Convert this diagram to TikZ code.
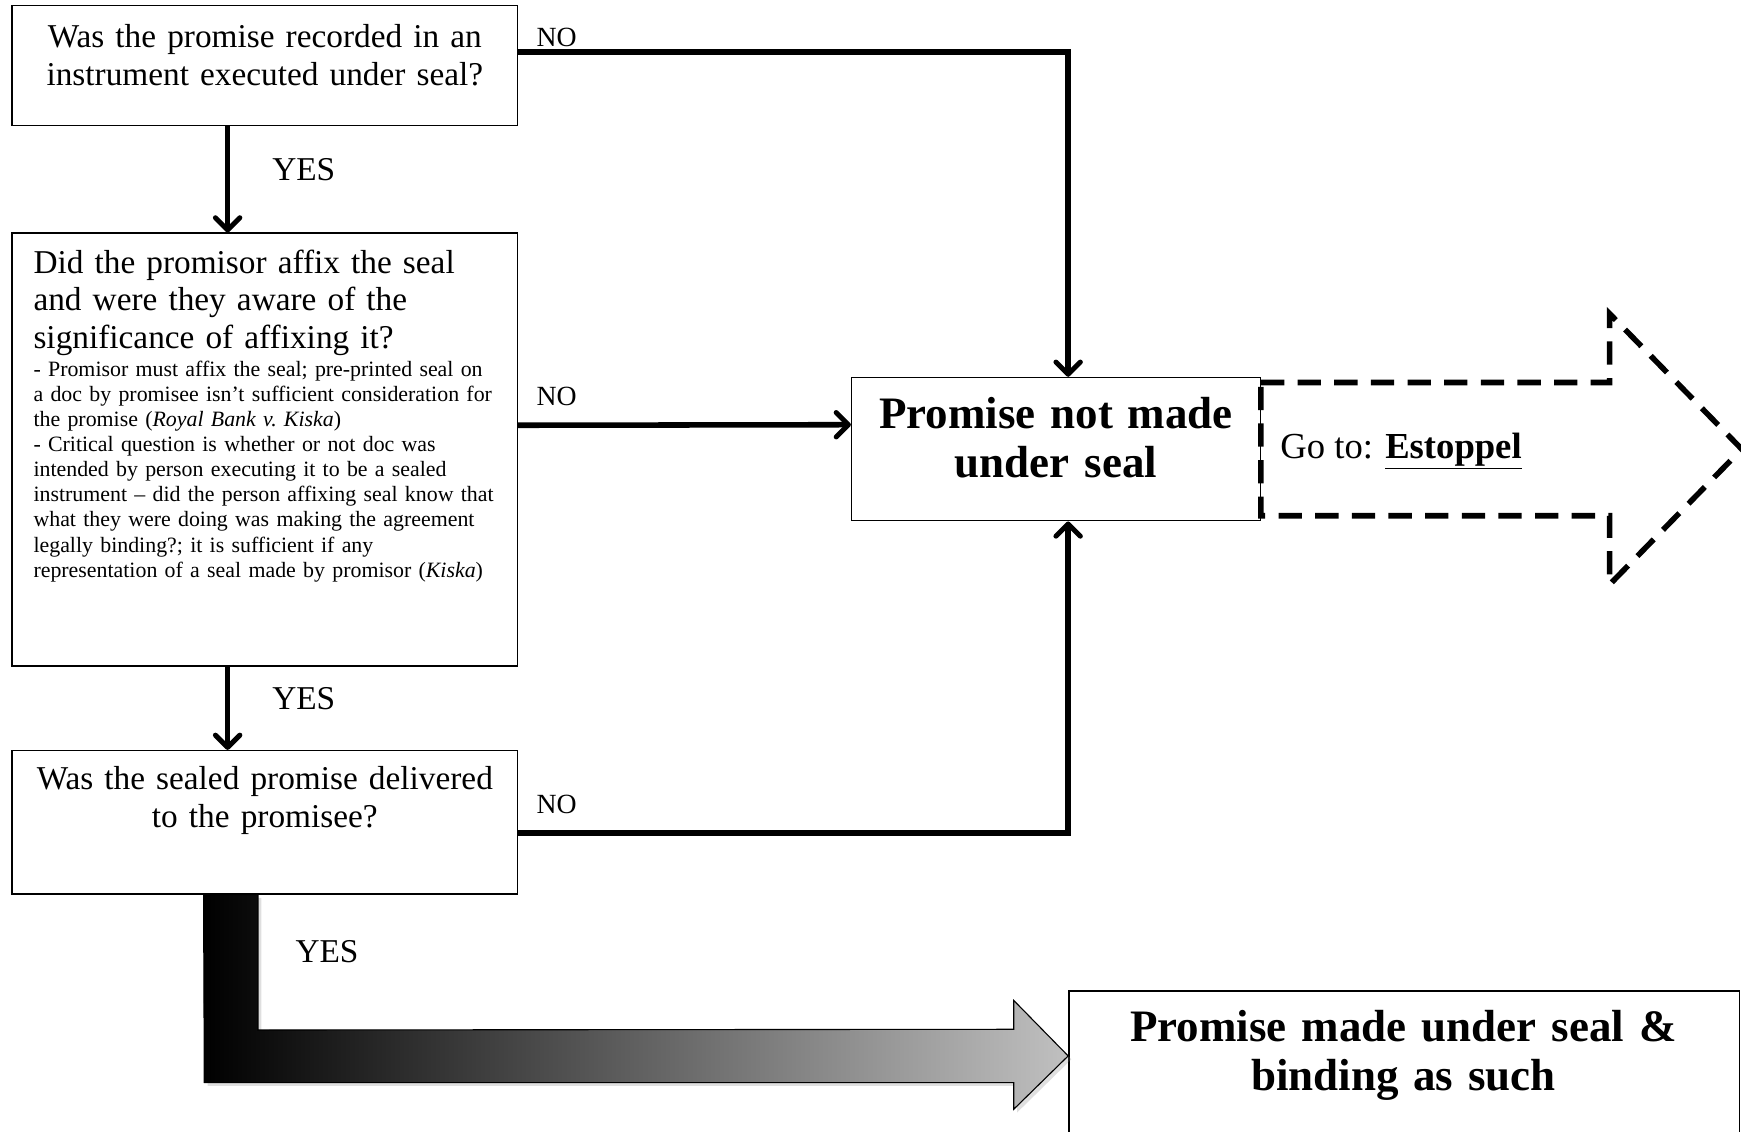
\documentclass[tikz,border=0pt]{standalone}
\usepackage{fontspec}
\setmainfont{Liberation Serif}
\usepackage{xcolor}
\definecolor{tipgray}{HTML}{C0C0C0}
\usepackage{tikz}
\usetikzlibrary{positioning, arrows.meta, calc, shadows}
\newcommand{\qfont}{\fontsize{30}{34}\selectfont}
\newcommand{\notefont}{\fontsize{19.7}{22.6}\selectfont}
\newcommand{\resultfont}{\fontsize{40.5}{44}\selectfont\bfseries}
\newcommand{\lblfont}{\fontsize{25}{28}\selectfont}

\begin{document}
\begin{tikzpicture}[x=1pt, y=-1pt,
  qbox/.style={draw, line width=1.3pt, inner sep=0pt, rectangle},
  qtext/.style={inner sep=0pt, align=center, anchor=base, font=\qfont},
  conn/.style={line width=5pt,
    -{Straight Barb[length=11pt, width=22pt, line width=4.5pt, round]}},
  lbl/.style={inner sep=0pt, anchor=base west}]
  \useasboundingbox (0,0) rectangle (1568,1019);

  % question boxes
  \node[qbox, minimum width=455pt, minimum height=108pt] (q1) at (238.5,59) {};
  \node[qbox, minimum width=455pt, minimum height=390pt] (q2) at (238.5,405) {};
  \node[qbox, minimum width=455pt, minimum height=129pt] (q3) at (238.5,740.5) {};
  \node[qbox, minimum width=368pt, minimum height=129pt] (notseal) at (951,404.5) {};
  \node[qbox, minimum width=604pt, minimum height=160pt, anchor=north west]
        (sealed) at (962,892) {};

  % texts
  \node[qtext, text width=455pt] (q1text) at (238.5,43)
        {Was the promise recorded in an\\ instrument executed under seal?};
  \node[qtext, anchor=base west, align=left, text width=440pt] (q2title) at (30,246)
        {Did the promisor affix the seal\\ and were they aware of the\\
         significance of affixing it?};
  \node[qtext, anchor=base west, align=left, text width=600pt, font=\notefont]
        (q2notes) at (30,339)
        {- Promisor must affix the seal; pre-printed seal on\\
         a doc by promisee isn’t sufficient consideration for\\
         the promise (\textit{Royal Bank v.\ Kiska})\\
         - Critical question is whether or not doc was\\
         intended by person executing it to be a sealed\\
         instrument – did the person affixing seal know that\\
         what they were doing was making the agreement\\
         legally binding?; it is sufficient if any\\
         representation of a seal made by promisor (\textit{Kiska})};
  \node[qtext, text width=455pt] (q3text) at (238.5,711)
        {Was the sealed promise delivered\\ to the promisee?};
  \node[qtext, text width=368pt, font=\resultfont] (notsealtext) at (951,386)
        {Promise not made\\ under seal};
  \node[qtext, text width=604pt, font=\resultfont] (sealedtext) at (1264,938)
        {Promise made under seal \&\\ binding as such};

  % connectors
  \draw[conn] ([yshift=12pt]q1.east) -| ([xshift=11pt]notseal.north);
  \draw[conn] ([xshift=-33.5pt]q1.south) -- ([xshift=-33.5pt]q2.north);
  \draw[conn] ([yshift=22pt]q2.east) -- ([yshift=22pt]notseal.west);
  \draw[conn] ([xshift=-33.5pt]q2.south) -- ([xshift=-33.5pt]q3.north);
  \draw[conn] ([yshift=-9.5pt]q3.east) -| ([xshift=11pt]notseal.south);

  % labels
  \node[lbl, font=\qfont] (yes1) at (245,163) {YES};
  \node[lbl, font=\qfont] (yes2) at (245,639) {YES};
  \node[lbl, font=\qfont] (yes3) at (266,867) {YES};
  \node[lbl, font=\lblfont] (no1) at (483,41.5) {NO};
  \node[lbl, font=\lblfont] (no2) at (483,365.5) {NO};
  \node[lbl, font=\lblfont] (no3) at (483,732.5) {NO};

  % dashed arrow to estoppel
  \draw[line width=5pt, dash pattern=on 21pt off 12pt, miter limit=4]
    ([yshift=60pt]notseal.east) -- ([xshift=314pt,yshift=60pt]notseal.east)
    -- ([xshift=314pt,yshift=122pt]notseal.east) -- ([xshift=433pt]notseal.east)
    -- ([xshift=314pt,yshift=-122pt]notseal.east)
    -- ([xshift=314pt,yshift=-60pt]notseal.east) -- ([yshift=-60pt]notseal.east)
    -- cycle;
  \node[lbl, font=\fontsize{33}{36}\selectfont] (goto) at (1153,413)
        {Go to: \underline{\textbf{Estoppel}}};

  % shaded yes arrow
  \coordinate (stemtop) at ([xshift=173pt]q3.south west);
  \coordinate (tip) at ([yshift=-59pt]sealed.north west);
  \path[draw=black, line width=1pt, left color=black, right color=tipgray,
        drop shadow={shadow xshift=3pt, shadow yshift=-3pt, opacity=0.25}]
    (stemtop) -- ++(49,0) -- ++(0,122)
    -- ([xshift=-49pt,yshift=24pt]tip) -- ([xshift=-49pt,yshift=50pt]tip)
    -- (tip) -- ([xshift=-49pt,yshift=-48pt]tip)
    -- ([xshift=-49pt,yshift=-24pt]tip) -- ([xshift=-778pt,yshift=-24pt]tip)
    -- cycle;
\end{tikzpicture}
\end{document}
